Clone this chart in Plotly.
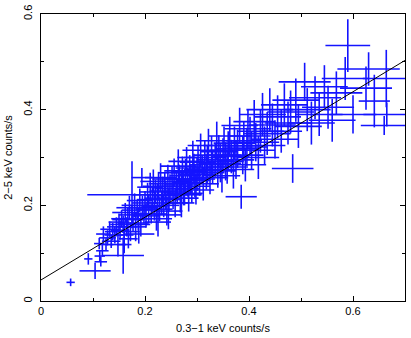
import plotly.graph_objects as go

# Crosses: centre (x, y) and half-widths (x_err, y_err)
x_vals = [0.057,0.104,0.091,0.113,0.115,0.158,
          0.118,0.125,0.128,0.135,0.138,0.142,0.145,0.148,0.120,0.132,0.112,0.150,
          0.152,0.155,0.158,0.160,0.162,0.165,0.167,0.170,0.172,0.175,0.177,0.180,0.182,0.185,0.187,0.190,0.192,0.194,0.195,0.198,0.175,0.188,0.168,0.160,
          0.200,0.202,0.205,0.207,0.210,0.212,0.214,0.216,0.218,0.220,0.222,0.224,0.226,0.228,0.230,0.232,0.234,0.236,0.238,0.240,0.242,0.244,0.246,0.248,0.225,0.245,
          0.252,0.254,0.256,0.258,0.260,0.262,0.264,0.266,0.268,0.270,0.272,0.274,0.276,0.278,0.280,0.282,0.284,0.286,0.288,0.290,0.292,0.294,0.296,0.298,0.300,0.270,
          0.302,0.305,0.307,0.310,0.312,0.315,0.318,0.320,0.322,0.325,0.328,0.330,0.335,0.338,0.340,0.342,0.345,0.348,0.350,
          0.352,0.355,0.358,0.360,0.363,0.366,0.370,0.372,0.375,0.378,0.382,0.385,0.388,0.390,0.393,0.396,0.398,
          0.402,0.405,0.410,0.413,0.418,0.422,0.426,0.430,0.435,0.440,0.445,0.450,0.455,0.462,0.468,0.475,0.480,0.484,0.490,0.495,
          0.507,0.512,0.520,0.527,0.535,0.545,0.552,0.560,0.568,0.590,0.585,0.600,
          0.630,0.641,0.660,0.664,0.625,0.665]
y_vals = [0.039,0.063,0.088,0.094,0.082,0.095,
          0.105,0.118,0.132,0.125,0.145,0.138,0.155,0.118,0.140,0.150,0.120,0.165,
          0.148,0.172,0.160,0.138,0.185,0.155,0.170,0.195,0.145,0.180,0.163,0.200,0.155,0.190,0.172,0.210,0.160,0.258,0.195,0.182,0.222,0.140,0.130,0.118,
          0.205,0.178,0.222,0.192,0.238,0.182,0.212,0.250,0.198,0.228,0.172,0.215,0.240,0.192,0.258,0.205,0.230,0.200,0.245,0.220,0.188,0.255,0.212,0.235,0.165,0.180,
          0.250,0.222,0.268,0.205,0.240,0.228,0.282,0.255,0.215,0.245,0.272,0.235,0.225,0.262,0.292,0.248,0.222,0.270,0.255,0.240,0.300,0.278,0.252,0.232,0.265,0.205,
          0.290,0.255,0.315,0.275,0.245,0.300,0.268,0.285,0.325,0.258,0.305,0.280,0.295,0.335,0.272,0.312,0.288,0.262,0.305,
          0.325,0.292,0.280,0.315,0.345,0.302,0.275,0.330,0.295,0.318,0.367,0.218,0.305,0.335,0.285,0.322,0.360,
          0.345,0.315,0.375,0.332,0.300,0.355,0.390,0.325,0.350,0.400,0.368,0.338,0.385,0.355,0.410,0.372,0.395,0.277,0.420,0.365,
          0.458,0.400,0.372,0.425,0.390,0.448,0.405,0.378,0.435,0.534,0.465,0.390,
          0.485,0.418,0.367,0.465,0.445,0.390]
x_err = [0.008,0.030,0.008,0.010,0.012,0.040,
         0.012,0.014,0.016,0.018,0.015,0.020,0.018,0.016,0.014,0.018,0.010,0.020,
         0.018,0.020,0.025,0.018,0.025,0.020,0.030,0.025,0.018,0.025,0.030,0.025,0.020,0.030,0.025,0.025,0.018,0.020,0.030,0.025,0.086,0.030,0.018,0.014,
         0.025,0.025,0.030,0.025,0.025,0.030,0.030,0.025,0.025,0.030,0.030,0.025,0.030,0.025,0.030,0.030,0.025,0.030,0.030,0.025,0.030,0.030,0.025,0.030,0.025,0.025,
         0.030,0.030,0.030,0.025,0.035,0.030,0.035,0.030,0.035,0.030,0.035,0.030,0.035,0.030,0.035,0.030,0.025,0.035,0.030,0.035,0.030,0.035,0.030,0.035,0.035,0.025,
         0.035,0.030,0.035,0.035,0.030,0.040,0.035,0.035,0.040,0.035,0.035,0.040,0.035,0.040,0.035,0.035,0.040,0.035,0.035,
         0.040,0.035,0.040,0.035,0.040,0.035,0.040,0.040,0.035,0.040,0.035,0.030,0.040,0.035,0.040,0.040,0.045,
         0.040,0.045,0.040,0.045,0.040,0.045,0.045,0.040,0.045,0.045,0.045,0.045,0.045,0.040,0.045,0.045,0.045,0.040,0.045,0.045,
         0.050,0.045,0.045,0.050,0.045,0.045,0.050,0.045,0.050,0.043,0.045,0.045,
         0.060,0.030,0.045,0.045,0.050,0.045]
y_err = [0.008,0.017,0.012,0.012,0.010,0.038,
         0.012,0.013,0.016,0.014,0.018,0.018,0.020,0.025,0.016,0.016,0.012,0.018,
         0.020,0.018,0.018,0.025,0.020,0.020,0.025,0.025,0.020,0.020,0.018,0.025,0.030,0.020,0.025,0.025,0.025,0.020,0.025,0.020,0.070,0.020,0.020,0.018,
         0.025,0.025,0.025,0.030,0.030,0.020,0.025,0.025,0.030,0.025,0.025,0.030,0.030,0.025,0.030,0.025,0.030,0.025,0.025,0.030,0.030,0.030,0.025,0.030,0.030,0.030,
         0.030,0.030,0.030,0.030,0.030,0.025,0.035,0.030,0.030,0.030,0.030,0.035,0.025,0.035,0.030,0.030,0.035,0.035,0.030,0.035,0.035,0.030,0.035,0.030,0.035,0.030,
         0.035,0.035,0.035,0.030,0.035,0.035,0.035,0.040,0.035,0.035,0.040,0.035,0.035,0.040,0.035,0.035,0.040,0.035,0.035,
         0.040,0.040,0.035,0.040,0.040,0.035,0.040,0.035,0.040,0.040,0.037,0.025,0.040,0.040,0.035,0.040,0.040,
         0.040,0.040,0.045,0.040,0.045,0.045,0.045,0.040,0.045,0.045,0.045,0.040,0.045,0.045,0.045,0.045,0.045,0.030,0.045,0.045,
         0.040,0.045,0.045,0.045,0.045,0.045,0.045,0.045,0.045,0.055,0.045,0.040,
         0.035,0.055,0.020,0.060,0.045,0.025]

fit_x = [0.0, 0.7]
fit_y = [0.044, 0.503]

x_ticks = [0, 0.2, 0.4, 0.6]
x_ticklabels = ["0", "0.2", "0.4", "0.6"]
y_ticks = [0, 0.2, 0.4, 0.6]
y_ticklabels = ["0", "0.2", "0.4", "0.6"]

blue = "rgb(20,20,255)"
fig = go.Figure()
fig.add_trace(go.Scatter(
    x=x_vals, y=y_vals, mode="markers",
    marker=dict(size=1, color=blue, opacity=0),
    error_x=dict(type="data", array=x_err, visible=True, color=blue, thickness=1.6, width=0),
    error_y=dict(type="data", array=y_err, visible=True, color=blue, thickness=1.6, width=0),
    showlegend=False, hoverinfo="skip"))
fig.add_trace(go.Scatter(x=fit_x, y=fit_y, mode="lines",
                         line=dict(color="black", width=1), showlegend=False))

font = dict(family="Liberation Sans, Arial, sans-serif", size=11, color="black")
axis_common = dict(showgrid=False, zeroline=False, showline=True, linecolor="black",
                   linewidth=1, mirror="allticks", ticks="inside", ticklen=5,
                   tickcolor="black", tickwidth=1, tickfont=font)
fig.update_layout(
    width=411, height=338,
    margin=dict(l=41, r=5, t=10, b=37),
    paper_bgcolor="white", plot_bgcolor="white", font=font,
    xaxis=dict(range=[0, 0.7], tickvals=x_ticks, ticktext=x_ticklabels,
               minor=dict(ticks="inside", dtick=0.1, ticklen=3, tickcolor="black"),
               title=dict(text="0.3−1 keV counts/s", font=font, standoff=8),
               **axis_common),
    yaxis=dict(range=[0, 0.6], tickvals=y_ticks, ticktext=y_ticklabels, tickangle=-90,
               ticklabelstandoff=4,
               minor=dict(ticks="inside", dtick=0.1, ticklen=3, tickcolor="black"),
               title=dict(text="2−5 keV counts/s", font=font, standoff=6),
               **axis_common),
)
fig.write_html("out.html")
